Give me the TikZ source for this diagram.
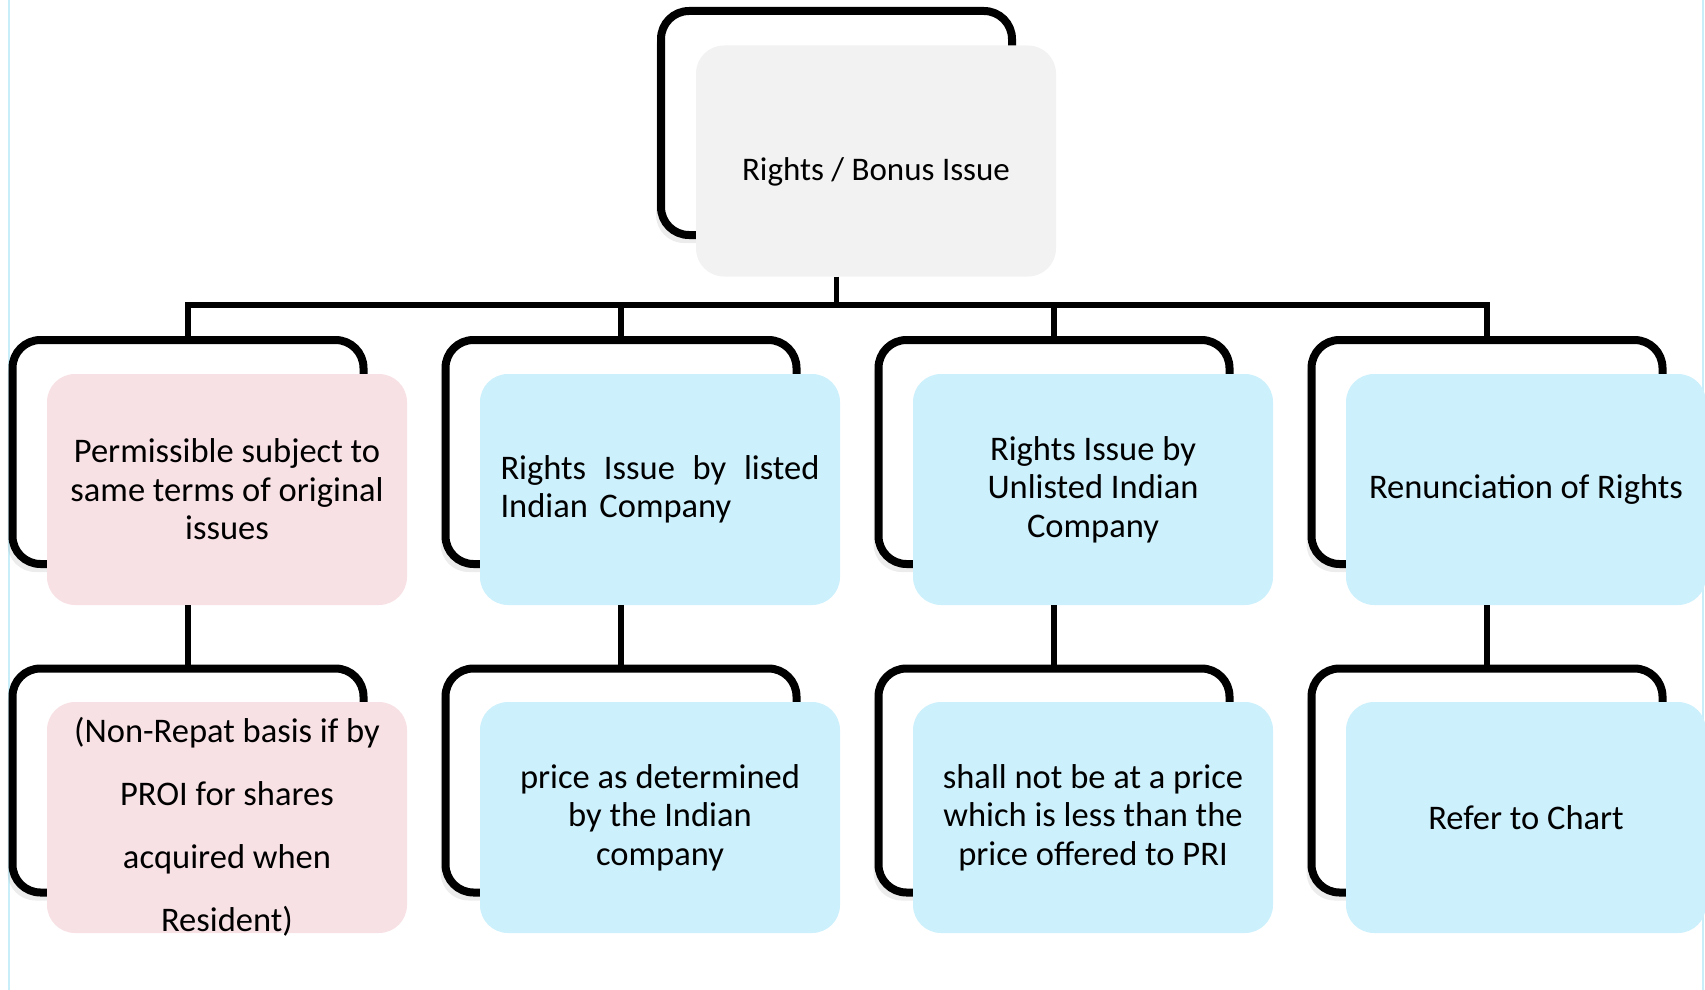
\documentclass[tikz,border=0pt]{standalone}
\usepackage{fontspec}
\setmainfont{Carlito}
\usetikzlibrary{shadows}
\definecolor{pinkbox}{RGB}{248,225,229}
\definecolor{bluebox}{RGB}{204,240,252}
\definecolor{graybox}{RGB}{242,242,242}
\definecolor{edgeline}{RGB}{200,238,250}
\begin{document}
\begin{tikzpicture}[x=1pt,y=-1pt,
  frame/.style={draw=black, line width=8pt, rounded corners=28pt, fill=white,
    minimum width=351pt, minimum height=224pt, inner sep=0pt,
    drop shadow={shadow xshift=-5pt, shadow yshift=-8pt, opacity=0.15}},
  box/.style={rounded corners=28pt, minimum width=360pt, minimum height=231pt,
    inner sep=0pt, align=center, font=\fontsize{34.5}{38.5}\selectfont},
  pinkb/.style={box, fill=pinkbox},
  blueb/.style={box, fill=bluebox},
  grayb/.style={box, fill=graybox},
  conn/.style={draw=black, line width=5.5pt}]
\useasboundingbox (0,0) rectangle (1705,990);
\draw[edgeline, line width=1.5pt] (9,0) -- (9,990);
\draw[edgeline, line width=1.5pt] (1703,0) -- (1703,990);

% top
\node[frame] (f0) at (836.5,123) {};
\node[grayb, font=\fontsize{33}{38.5}\selectfont] (b0) at (876,161) {\rule{0pt}{44pt}Rights / Bonus Issue};

% level 1
\node[frame] (f1) at (188,452) {};
\node[pinkb] (b1) at (227,489.5) {Permissible subject to\\same terms of original\\issues};
\node[frame] (f2) at (621,452) {};
\node[blueb, text width=319pt, align=left] (b2) at (660,489.5) {\hbox to 319pt{Rights\hfill Issue\hfill by\hfill listed}\\Indian Company};
\node[frame] (f3) at (1054,452) {};
\node[blueb] (b3) at (1093,489.5) {Rights Issue by\\Unlisted Indian\\Company};
\node[frame] (f4) at (1487,452) {};
\node[blueb] (b4) at (1526,489.5) {Renunciation of Rights};

% level 2
\node[frame] (g1) at (188,780.5) {};
\node[pinkb, font=\fontsize{34.5}{63}\selectfont, text depth=0pt] (c1) at (227,817.5) {\rule{0pt}{38pt}(Non-Repat basis if by\\PROI for shares\\acquired when\\Resident)};
\node[frame] (g2) at (621,780.5) {};
\node[blueb] (c2) at (660,817.5) {price as determined\\by the Indian\\company};
\node[frame] (g3) at (1054,780.5) {};
\node[blueb] (c3) at (1093,817.5) {shall not be at a price\\which is less than the\\price offered to PRI};
\node[frame] (g4) at (1487,780.5) {};
\node[blueb] (c4) at (1526,817.5) {Refer to Chart};

% connectors
\coordinate (bus) at (0,305);
\draw[conn] (f0 |- b0.south) -- (f0 |- bus);
\draw[conn, line cap=rect] (f1 |- bus) -- (f4 |- bus);
\foreach \i in {1,2,3,4} {
  \draw[conn] (f\i |- bus) -- (f\i.north);
  \draw[conn] (f\i |- b\i.south) -- (g\i.north);
}
\end{tikzpicture}
\end{document}
